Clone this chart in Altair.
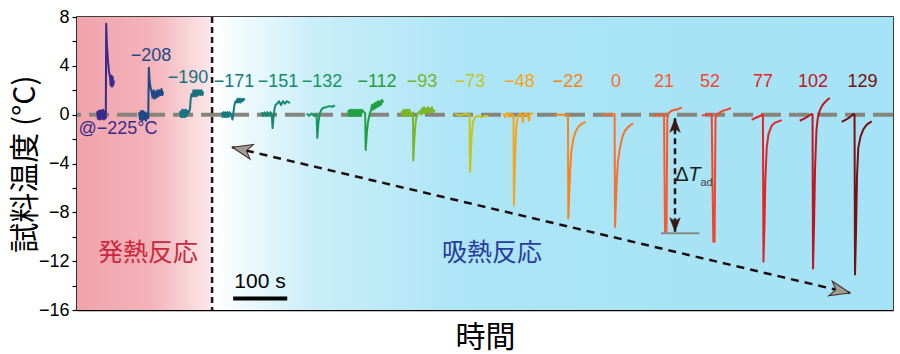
import altair as alt
import pandas as pd

LATIN = "Liberation Sans"
CJK = "Noto Sans CJK JP"

# ---------------- data ----------------
TRACE_LABELS = ["@−225°C", "−208", "−190", "−171", "−151", "−132", "−112", "−93",
                "−73", "−48", "−22", "0", "21", "52", "77", "102", "129"]
TRACE_COLORS = ["#3a2a8e", "#1d4a86", "#187480", "#127a80", "#15886e", "#14985c",
                "#22a040", "#7ab52a", "#c8c41a", "#f8a418", "#f88418", "#f8702c",
                "#f85a2c", "#f4442c", "#e82222", "#c0141e", "#78100f"]

TRACE_TIMES = [
    [37.0, 38.9, 40.7, 42.6, 44.4, 46.3, 48.1, 50.0, 51.8, 53.3, 54.0, 55.5, 57.4, 59.2, 61.1, 62.4, 63.5, 64.8, 65.9, 67.0, 68.5],
    [114.7, 116.6, 118.4, 120.3, 122.1, 124.0, 125.8, 127.7, 129.5, 131.8, 132.9, 134.3, 136.0, 137.9, 139.7, 141.6, 143.4, 145.3, 147.1, 149.0, 150.8, 152.7, 154.5, 156.4, 158.2, 159.1],
    [190.6, 192.5, 194.3, 196.2, 198.0, 199.9, 201.7, 203.6, 205.4, 207.3, 209.1, 210.6, 211.9, 213.8, 215.6, 217.5, 219.3, 221.2, 223.0, 224.9, 226.7, 228.6, 230.4, 232.3, 233.2],
    [267.8, 269.2, 271.1, 272.9, 274.8, 276.6, 278.5, 280.3, 282.2, 285.0, 287.7, 289.6, 291.4, 293.3, 295.1, 297.0, 298.8, 300.7, 302.5, 304.4, 306.2, 308.1, 310.8],
    [341.8, 344.2, 347.0, 349.8, 352.6, 355.4, 358.1, 360.4, 361.9, 363.7, 365.6, 367.4, 370.2, 373.8, 377.5, 381.2, 384.9, 388.6, 394.2],
    [425.1, 429.4, 434.0, 438.6, 443.2, 444.7, 446.9, 448.8, 451.5, 455.2, 460.8, 466.3, 471.9, 477.4],
    [502.0, 503.3, 505.2, 507.0, 508.9, 510.7, 512.6, 514.4, 516.3, 518.1, 520.0, 521.8, 523.7, 525.5, 527.4, 533.3, 534.2, 536.3, 538.5, 541.3, 544.1, 545.9, 547.7, 549.6, 551.4, 553.3, 555.1, 557.0, 558.8, 560.7, 562.5, 564.4, 566.8],
    [600.9, 602.3, 604.2, 606.0, 607.9, 609.7, 611.6, 613.4, 615.3, 617.1, 621.6, 622.3, 624.5, 626.4, 628.2, 631.0, 634.7, 636.6, 638.4, 640.3, 642.1, 644.0, 645.8, 647.7, 649.5, 651.4, 653.2, 655.1, 656.9, 658.8, 662.5],
    [699.5, 708.7, 718.0, 726.5, 727.3, 730.0, 732.8, 736.5, 742.0, 749.4, 755.0, 761.1],
    [788.9, 792.0, 795.7, 799.4, 803.1, 807.8, 808.6, 810.9, 813.3, 816.1, 819.8, 823.5, 825.3, 827.2, 830.9, 834.6, 836.4, 838.3, 844.4],
    [884.5, 908.5, 909.2, 910.8, 912.7, 914.7, 918.4, 922.5, 927.7, 933.6, 941.0],
    [972.8, 994.8, 995.6, 997.4, 998.9, 1001.1, 1004.8, 1009.4, 1014.1, 1021.5, 1029.4],
    [1066.5, 1073.3, 1078.9, 1086.3, 1088.1, 1090.9, 1092.4, 1094.6, 1099.2, 1106.6, 1112.2, 1119.0],
    [1156.0, 1164.0, 1174.5, 1177.5, 1179.9, 1181.5, 1184.3, 1189.9, 1197.3, 1204.7, 1210.2],
    [1248.5, 1256.4, 1269.3, 1270.3, 1272.2, 1273.7, 1276.3, 1279.6, 1285.6, 1291.7, 1298.2, 1304.1],
    [1337.4, 1346.6, 1354.1, 1359.0, 1361.1, 1362.0, 1363.9, 1365.7, 1368.3, 1370.7, 1374.4, 1379.0, 1383.6, 1388.3, 1392.9],
    [1415.1, 1423.0, 1430.4, 1436.5, 1438.8, 1439.7, 1441.6, 1443.4, 1445.8, 1449.9, 1455.1, 1461.9, 1470.6],
]

TRACE_TEMPS = [
    [0.3, -0.35, 0.35, -0.4, 0.35, -0.35, 0.4, -0.4, 0.3, -0.3, 7.45, 5.6, 4.4, 3.5, 3.1, 2.4, 3.2, 2.3, 3.1, 2.4, 2.8],
    [0.2, -0.4, 0.3, -0.5, 0.3, -0.4, 0.2, -0.5, 0.1, -0.3, 3.85, 2.8, 2.2, 1.9, 1.4, 2.0, 1.3, 1.9, 1.4, 2.0, 1.5, 2.0, 1.6, 2.1, 1.6, 1.9],
    [0.3, -0.2, 0.4, -0.2, 0.4, -0.2, 0.4, -0.1, 0.3, 0.2, 0.5, 1.4, 1.7, 1.5, 2.0, 1.5, 2.0, 1.5, 2.0, 1.6, 2.0, 1.6, 2.0, 1.6, 1.9],
    [0.2, -0.2, 0.2, -0.2, 0.2, -0.2, 0.2, -0.2, 0.2, 0.0, -0.4, 0.2, 0.8, 1.1, 1.0, 1.3, 1.0, 1.3, 1.0, 1.3, 1.1, 1.3, 1.2],
    [0.2, -0.1, 0.2, -0.1, 0.2, -0.1, 0.2, 0.0, -1.1, -0.2, 0.5, 0.8, 0.9, 1.1, 0.8, 1.1, 0.9, 1.1, 0.95],
    [0.1, -0.1, 0.1, -0.1, 0.05, -1.9, -0.6, 0.0, 0.35, 0.55, 0.6, 0.7, 0.65, 0.75],
    [0.4, -0.1, 0.4, -0.1, 0.4, -0.1, 0.4, -0.1, 0.4, -0.1, 0.4, -0.1, 0.4, -0.1, 0.4, 0.1, -2.9, -1.5, -0.6, 0.0, 0.4, 0.8, 0.4, 0.9, 0.5, 1.0, 0.6, 1.1, 0.7, 1.1, 0.8, 1.2, 1.0],
    [0.3, -0.1, 0.4, -0.1, 0.4, -0.1, 0.4, -0.1, 0.4, -0.1, 0.2, -3.75, -1.8, -0.7, -0.2, 0.1, 0.3, 0.0, 0.5, 0.1, 0.6, 0.1, 0.5, 0.2, 0.6, 0.1, 0.5, 0.2, 0.6, 0.2, 0.4],
    [0.05, -0.05, 0.05, 0.0, -4.7, -1.8, -0.6, -0.2, -0.1, -0.2, -0.1, -0.1],
    [0.1, -0.2, 0.15, -0.2, 0.1, -0.1, -7.43, -3.0, -0.8, -0.1, 0.1, -0.1, -0.6, 0.0, 0.1, -0.1, -0.5, 0.1, 0.1],
    [0.0, 0.0, -8.5, -6.5, -4.5, -3.0, -2.0, -1.4, -1.0, -0.75, -0.6],
    [0.0, 0.05, -9.2, -7.0, -5.3, -3.8, -2.7, -1.8, -1.3, -0.95, -0.7],
    [-0.14, -0.05, 0.0, 0.06, -9.6, -9.6, -0.3, 0.1, 0.3, 0.4, 0.45, 0.6],
    [-0.08, 0.0, 0.06, -10.4, -10.4, -0.3, 0.0, 0.2, 0.35, 0.45, 0.55],
    [-0.43, -0.25, 0.0, -12.05, -9.0, -5.5, -2.7, -1.6, -0.9, -0.65, -0.55, -0.45],
    [-0.5, -0.3, -0.1, 0.06, 0.0, -12.6, -9.0, -4.5, -1.3, -0.3, 0.33, 0.75, 1.0, 1.2, 1.36],
    [-0.6, -0.4, -0.2, 0.06, 0.0, -13.1, -9.5, -5.0, -2.7, -1.8, -1.2, -0.8, -0.55],
]

LABEL_T = [75.9, 136.9, 205.4, 290.5, 372.0, 453.4, 555.2, 638.4, 727.2, 818.8,
           908.6, 997.4, 1086.3, 1171.4, 1269.5, 1362.0, 1453.6]
LABEL_Y = [-1.15, 4.84, 3.03, 2.65, 2.65, 2.65, 2.65, 2.65, 2.65, 2.65,
           2.65, 2.65, 2.65, 2.65, 2.65, 2.65, 2.65]

X_DOMAIN = [0, 1510]
Y_DOMAIN = [-16, 8]
Y_TICKS = list(range(-16, 9, 2))

REGION_START = [0, 250]
REGION_END = [250, 1510]
BOUNDARY_T = [250]
ZERO_LINE = [0]

SCALEBAR_T = [289, 389]
SCALEBAR_Y = [-15.05]
SCALEBAR_TEXT = ["100 s"]
SCALEBAR_TEXT_POS = [338.6, -13.7]

REGION_TEXT = ["発熱反応", "吸熱反応"]
REGION_TEXT_T = [131.3, 768.0]
REGION_TEXT_Y = [-11.33, -11.33]
REGION_TEXT_COLOR = ["#c9283e", "#2a3c9c"]

ARROW_T = [287.4, 1430.4]
ARROW_Y = [-2.67, -14.61]

DT_T = [1106.6]
DT_Y = [-0.30, -9.59]
DT_BASE_T = [1080.7, 1151.6]
DT_BASE_Y = [-9.72]

# ---------------- build tables ----------------
rows = []
for lab, ts, ys in zip(TRACE_LABELS, TRACE_TIMES, TRACE_TEMPS):
    for j, (t, y) in enumerate(zip(ts, ys)):
        rows.append({"trace": lab, "k": j, "t": t, "temp": y})
traces = pd.DataFrame(rows)
labels = pd.DataFrame({"trace": TRACE_LABELS, "t": LABEL_T, "temp": LABEL_Y})

xscale = alt.Scale(domain=X_DOMAIN, nice=False, zero=False)
yscale = alt.Scale(domain=Y_DOMAIN, nice=False, zero=False)
xaxis = alt.Axis(title="時間", labels=False, ticks=False, grid=False,
                 domainColor="black", domainWidth=1.5,
                 titleFont=CJK, titleFontSize=30, titleFontWeight="normal",
                 titleColor="black", titlePadding=12)
yaxis = alt.Axis(title="試料温度 (°C)", values=Y_TICKS,
                 labelExpr="datum.value % 4 == 0 ? datum.label : ''",
                 grid=False, tickSize=5, tickColor="black", tickWidth=1.2,
                 domainColor="black", domainWidth=1.5,
                 labelFont=LATIN, labelFontSize=18, labelColor="black", labelPadding=3,
                 titleFont=CJK, titleFontSize=30, titleFontWeight="normal",
                 titleColor="black", titlePadding=-2)


def X(f):
    return alt.X(f, type="quantitative", scale=xscale, axis=xaxis)


def Y(f):
    return alt.Y(f, type="quantitative", scale=yscale, axis=yaxis)


color_scale = alt.Scale(domain=TRACE_LABELS, range=TRACE_COLORS)

# backgrounds
pink = alt.Gradient(gradient="linear", x1=0, x2=1, y1=0, y2=0,
                    stops=[alt.GradientStop(color="#f0a3ab", offset=0),
                           alt.GradientStop(color="#f3b3b9", offset=0.55),
                           alt.GradientStop(color="#fce9eb", offset=1)])
blue = alt.Gradient(gradient="linear", x1=0, x2=1, y1=0, y2=0,
                    stops=[alt.GradientStop(color="#ffffff", offset=0),
                           alt.GradientStop(color="#c9eef9", offset=0.15),
                           alt.GradientStop(color="#ace5f6", offset=0.38),
                           alt.GradientStop(color="#a4e2f5", offset=1)])
reg = pd.DataFrame({"a": REGION_START, "b": REGION_END, "lo": [Y_DOMAIN[0]] * 2, "hi": [Y_DOMAIN[1]] * 2})
bg_pink = alt.Chart(reg.iloc[[0]]).mark_rect(fill=pink, strokeWidth=0).encode(
    x=X("a"), x2=alt.X2("b"), y=Y("lo"), y2=alt.Y2("hi"))
bg_blue = alt.Chart(reg.iloc[[1]]).mark_rect(fill=blue, strokeWidth=0).encode(
    x=X("a"), x2=alt.X2("b"), y=Y("lo"), y2=alt.Y2("hi"))

zero = alt.Chart(pd.DataFrame({"z": ZERO_LINE})).mark_rule(
    color="#85857b", strokeWidth=4, strokeDash=[20, 8]).encode(y=Y("z"))

boundary = alt.Chart(pd.DataFrame({"b": BOUNDARY_T})).mark_rule(
    color="#2a1214", strokeWidth=2.5, strokeDash=[6, 4]).encode(x=X("b"))

lines = alt.Chart(traces).mark_line(strokeWidth=2, strokeJoin="round").encode(
    x=X("t"), y=Y("temp"),
    color=alt.Color("trace:N", scale=color_scale, legend=None),
    detail="trace:N", order="k:Q")

label_marks = alt.Chart(labels).mark_text(font=LATIN, fontSize=18, align="center",
                                          baseline="middle").encode(
    x=X("t"), y=Y("temp"), text="trace:N",
    color=alt.Color("trace:N", scale=color_scale, legend=None))

region_df = pd.DataFrame({"txt": REGION_TEXT, "t": REGION_TEXT_T, "temp": REGION_TEXT_Y,
                          "c": REGION_TEXT_COLOR})
region_marks = alt.Chart(region_df).mark_text(font=CJK, fontSize=25, align="center",
                                              baseline="middle").encode(
    x=X("t"), y=Y("temp"), text="txt:N", color=alt.Color("c:N", scale=None))

sb = pd.DataFrame({"a": [SCALEBAR_T[0]], "b": [SCALEBAR_T[1]], "y": SCALEBAR_Y})
scalebar = alt.Chart(sb).mark_rule(color="black", strokeWidth=4).encode(
    x=X("a"), x2=alt.X2("b"), y=Y("y"))
sbt = pd.DataFrame({"txt": SCALEBAR_TEXT, "t": [SCALEBAR_TEXT_POS[0]], "temp": [SCALEBAR_TEXT_POS[1]]})
scalebar_text = alt.Chart(sbt).mark_text(font=LATIN, fontSize=21, align="center",
                                         baseline="middle", color="black").encode(
    x=X("t"), y=Y("temp"), text="txt:N")

arr = pd.DataFrame({"a": [ARROW_T[0]], "b": [ARROW_T[1]], "ya": [ARROW_Y[0]], "yb": [ARROW_Y[1]]})
arrow_line = alt.Chart(arr).mark_rule(color="#1e0e0e", strokeWidth=2.5, strokeDash=[8, 6]).encode(
    x=X("a"), x2=alt.X2("b"), y=Y("ya"), y2=alt.Y2("yb"))
STEALTH_RIGHT = "M0,0 L-2,-0.75 L-1.45,0 L-2,0.75 Z"
head_r = alt.Chart(pd.DataFrame({"t": [ARROW_T[1]], "temp": [ARROW_Y[1]]})).mark_point(
    shape=STEALTH_RIGHT, size=400, filled=True, fill="#a39a92", stroke="#3a2a22",
    strokeWidth=1, opacity=1, angle=13.3).encode(x=X("t"), y=Y("temp"))
head_l = alt.Chart(pd.DataFrame({"t": [ARROW_T[0]], "temp": [ARROW_Y[0]]})).mark_point(
    shape=STEALTH_RIGHT, size=400, filled=True, fill="#a39a92", stroke="#3a2a22",
    strokeWidth=1, opacity=1, angle=193.3).encode(x=X("t"), y=Y("temp"))

dt = pd.DataFrame({"t": DT_T, "ya": [DT_Y[0]], "yb": [DT_Y[1]]})
dt_line = alt.Chart(dt).mark_rule(color="#2a1410", strokeWidth=2.5, strokeDash=[6, 4]).encode(
    x=X("t"), y=Y("ya"), y2=alt.Y2("yb"))
STEALTH_UP = "M0,0 L0.75,2 L0,1.5 L-0.75,2 Z"
dt_heads = alt.Chart(pd.DataFrame({"t": DT_T * 2, "temp": DT_Y, "ang": [0, 180]})).mark_point(
    shape=STEALTH_UP, size=196, filled=True, fill="#3a1810", stroke="#3a1810",
    strokeWidth=0.5, opacity=1).encode(x=X("t"), y=Y("temp"), angle=alt.Angle("ang:Q", scale=None))
dtb = pd.DataFrame({"a": [DT_BASE_T[0]], "b": [DT_BASE_T[1]], "y": DT_BASE_Y})
dt_base = alt.Chart(dtb).mark_rule(color="#888888", strokeWidth=2).encode(
    x=X("a"), x2=alt.X2("b"), y=Y("y"))

dt_delta = alt.Chart(pd.DataFrame({"t": [1119.5], "temp": [-4.94]})).mark_text(
    text="Δ", font=LATIN, fontSize=20, color="#1a1a1a", align="center", baseline="middle").encode(
    x=X("t"), y=Y("temp"))
dt_T = alt.Chart(pd.DataFrame({"t": [1142.5], "temp": [-4.94]})).mark_text(
    text="T", font=LATIN, fontSize=20, fontStyle="italic", color="#1a1a1a", align="center",
    baseline="middle").encode(x=X("t"), y=Y("temp"))
dt_sub = alt.Chart(pd.DataFrame({"t": [1165.0], "temp": [-5.62]})).mark_text(
    text="ad", font=LATIN, fontSize=11, color="#444444", align="center", baseline="middle").encode(
    x=X("t"), y=Y("temp"))

chart = alt.layer(
    bg_pink, bg_blue, zero, boundary, lines, label_marks, region_marks,
    scalebar, scalebar_text, arrow_line, head_r, head_l,
    dt_base, dt_line, dt_heads, dt_delta, dt_T, dt_sub,
).properties(
    width=816, height=293,
    padding={"left": 77, "top": 17, "right": 7, "bottom": 44},
    autosize=alt.AutoSizeParams(type="none"),
    background="white",
).configure_view(stroke="black", strokeWidth=1.5)

chart.save("out.html", embed_options={"renderer": "svg", "actions": False})
